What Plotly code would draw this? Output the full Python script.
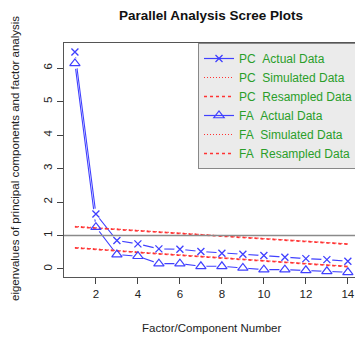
import plotly.graph_objects as go

factors = list(range(1, 15))
pc_actual = [6.48, 1.64, 0.85, 0.75, 0.60, 0.59, 0.52, 0.47, 0.44, 0.40, 0.35, 0.31, 0.28, 0.23]
fa_actual = [6.14, 1.25, 0.43, 0.38, 0.16, 0.16, 0.08, 0.08, 0.03, -0.02, -0.02, -0.04, -0.07, -0.10]
pc_simulated = [1.27, 1.23, 1.19, 1.15, 1.11, 1.07, 1.03, 0.99, 0.95, 0.91, 0.87, 0.83, 0.79, 0.75]
pc_resampled = [1.26, 1.22, 1.18, 1.14, 1.10, 1.06, 1.02, 0.98, 0.94, 0.90, 0.86, 0.82, 0.78, 0.74]
fa_simulated = [0.64, 0.59, 0.55, 0.50, 0.46, 0.42, 0.38, 0.34, 0.30, 0.26, 0.22, 0.18, 0.13, 0.08]
fa_resampled = [0.63, 0.58, 0.54, 0.49, 0.45, 0.41, 0.37, 0.33, 0.29, 0.25, 0.21, 0.17, 0.12, 0.07]
x_ticks = [2, 4, 6, 8, 10, 12, 14]
y_ticks = [0, 1, 2, 3, 4, 5, 6]

BLUE = "#4040ff"
RED = "#ff3333"
GREEN = "#2a9e2a"
NB = "\u00a0"

pc_marker = dict(symbol="x-thin-open", size=7, color=BLUE, line=dict(color=BLUE, width=1.3))
fa_marker = dict(symbol="triangle-up-open", size=9, color=BLUE, line=dict(color=BLUE, width=1.2))

fig = go.Figure()

# blue connecting lines (type "b": lines with gaps at the points)
for ys in (pc_actual, fa_actual):
    fig.add_trace(go.Scatter(x=factors, y=ys, mode="lines",
                             line=dict(color=BLUE, width=1.1), showlegend=False, hoverinfo="skip"))
for ys in (pc_actual, fa_actual):
    fig.add_trace(go.Scatter(x=factors, y=ys, mode="markers",
                             marker=dict(symbol="circle", size=11, color="white", line=dict(width=0)),
                             showlegend=False, hoverinfo="skip"))

# red reference lines
fig.add_trace(go.Scatter(x=factors, y=pc_simulated, mode="lines", showlegend=False, hoverinfo="skip",
                         line=dict(color=RED, width=1.2, dash="1px,2px")))
fig.add_trace(go.Scatter(x=factors, y=pc_resampled, mode="lines", showlegend=False, hoverinfo="skip",
                         line=dict(color=RED, width=1.7, dash="3px,3px")))
fig.add_trace(go.Scatter(x=factors, y=fa_simulated, mode="lines", showlegend=False, hoverinfo="skip",
                         line=dict(color=RED, width=1.2, dash="1px,2px")))
fig.add_trace(go.Scatter(x=factors, y=fa_resampled, mode="lines", showlegend=False, hoverinfo="skip",
                         line=dict(color=RED, width=1.7, dash="3px,3px")))

# points
fig.add_trace(go.Scatter(x=factors, y=pc_actual, mode="markers", marker=pc_marker, showlegend=False))
fig.add_trace(go.Scatter(x=factors, y=fa_actual, mode="markers", marker=fa_marker, showlegend=False))

# legend entries (no marks drawn)
legend_items = [
    ("PC" + NB + NB + "Actual Data", "lines+markers", dict(color=BLUE, width=1.2), pc_marker),
    ("PC" + NB + NB + "Simulated Data", "lines", dict(color=RED, width=1, dash="1px,2px"), None),
    ("PC" + NB + NB + "Resampled Data", "lines", dict(color=RED, width=1.5, dash="3px,3px"), None),
    ("FA" + NB + NB + "Actual Data", "lines+markers", dict(color=BLUE, width=1.2), fa_marker),
    ("FA" + NB + NB + "Simulated Data", "lines", dict(color=RED, width=1, dash="1px,2px"), None),
    ("FA" + NB + NB + "Resampled Data", "lines", dict(color=RED, width=1.5, dash="3px,3px"), None),
]
for name, mode, line, marker in legend_items:
    kw = dict(x=[None], y=[None], mode=mode, name=name, line=line, showlegend=True)
    if marker is not None:
        kw["marker"] = marker
    fig.add_trace(go.Scatter(**kw))

fig.add_hline(y=1, line=dict(color="#8a8a8a", width=1.6))

FONT = "Liberation Sans, Arial, Helvetica, sans-serif"
fig.update_layout(
    width=355, height=338,
    margin=dict(l=64, r=0, t=43, b=61, autoexpand=False),
    paper_bgcolor="white", plot_bgcolor="white",
    font=dict(family=FONT, size=11, color="#222222"),
    title=dict(text="<b>Parallel Analysis Scree Plots</b>", x=211/355, xanchor="center",
               y=1 - 15/338, yanchor="middle", font=dict(size=13.5, color="#111111")),
    xaxis=dict(range=[0.48, 14.34], tickvals=x_ticks, ticks="outside", ticklen=6, tickcolor="#444",
               showline=True, linecolor="#555", linewidth=1.2, mirror=True, showgrid=False, zeroline=False,
               tickfont=dict(size=11.5)),
    yaxis=dict(range=[-0.24, 6.75], tickvals=y_ticks, ticks="outside", ticklen=6, tickcolor="#444",
               tickangle=-90, showline=True, linecolor="#555", linewidth=1.2, mirror=False,
               showgrid=False, zeroline=False, tickfont=dict(size=11.5)),
    legend=dict(x=(198-64)/291, xanchor="left", y=1, yanchor="top", bgcolor="#ebebeb",
                bordercolor="#888888", borderwidth=1, font=dict(size=12, color=GREEN),
                tracegroupgap=0, itemwidth=30),
    showlegend=True,
    annotations=[
        dict(text="eigenvalues of principal components and factor analysis", xref="paper", yref="paper",
             x=(15-64)/291, y=(277-159)/234, xanchor="center", yanchor="middle", textangle=-90,
             showarrow=False, font=dict(size=11.5, color="#222222")),
        dict(text="Factor/Component Number", xref="paper", yref="paper",
             x=(212-64)/291, y=(277-328)/234, xanchor="center", yanchor="middle",
             showarrow=False, font=dict(size=11.5, color="#222222")),
    ],
)

fig.write_html("out.html", config={"displayModeBar": False},
               post_script="document.body.style.margin='0';document.body.style.padding='0';")
